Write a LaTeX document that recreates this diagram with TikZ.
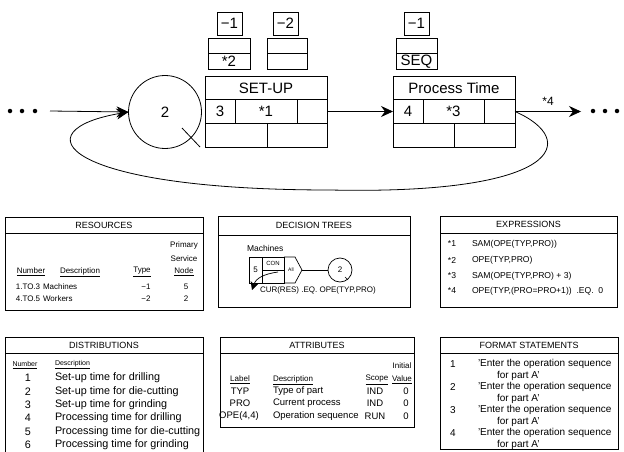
\documentclass[tikz,border=0pt]{standalone}
\usepackage{fontspec}
\setmainfont{Liberation Sans}
\usetikzlibrary{arrows.meta,calc}
\begin{document}
\begin{tikzpicture}[x=1pt,y=-1pt,line width=0.8pt,
  every node/.style={inner sep=0pt,outer sep=0pt},
  arr/.style={-{Stealth[length=12pt,width=11pt,inset=4pt]}},
  dot/.style={circle,fill,minimum size=4.5pt},
  fb/.style={font=\fontsize{15}{15}\selectfont},
  block/.style={draw,minimum width=122pt,minimum height=71pt,anchor=north west},
  sbox/.style={draw,minimum width=25pt,minimum height=23pt,fb},
  thin/.style={line width=0.7pt},
  fr/.style={font=\fontsize{8}{8}\selectfont},
  fe/.style={font=\fontsize{8.6}{8.6}\selectfont},
  fd/.style={font=\fontsize{10.8}{10.8}\selectfont},
  fh/.style={font=\fontsize{7}{7}\selectfont},
  fa/.style={font=\fontsize{9.5}{9.5}\selectfont},
  ff/.style={font=\fontsize{10}{10}\selectfont},
  ftitle/.style={font=\fontsize{9}{9}\selectfont}]
\useasboundingbox (0,0) rectangle (624,452);
% ---------------- top network ----------------
\node[dot] (dl1) at (10,111) {};
\node[dot] (dl2) at (22,111) {};
\node[dot] (dl3) at (35,111) {};
\coordinate (inL) at (50,111);
\node[draw,circle,minimum size=73pt,fb] (c2) at (165,112) {2};
\draw (182,128) -- (200,147);
\draw[arr] (inL) -- (c2.west);
% SET-UP block
\node[block] (su) at (205,76) {};
\draw (205,99) -- (327,99) (205,123) -- (327,123)
      (235,99) -- (235,123) (297,99) -- (297,123) (267,123) -- (267,147);
\node[fb] (sut) at (266,88) {SET-UP};
\node[fb] (su3) at (220,111) {3};
\node[fb] (su1) at (266,111) {*1};
\node[sbox] (sm1) at (229.5,23.5) {−1};
\node[sbox] (sm2) at (285.5,23.5) {−2};
\draw (208,38) rectangle (250,69) (208,53) -- (250,53);
\node[fb] (sa2) at (229,61.5) {*2};
\draw (267,38) rectangle (307,69) (267,53) -- (307,53);
% Process Time block
\node[block] (pt) at (393,76) {};
\draw (393,99) -- (515,99) (393,123) -- (515,123)
      (423,99) -- (423,123) (484,99) -- (484,123) (454,123) -- (454,147);
\node[fb] (ptt) at (454,88) {Process Time};
\node[fb] (pt4) at (408,111) {4};
\node[fb] (pt3) at (453.5,111) {*3};
\node[sbox] (pm1) at (416.5,23.5) {−1};
\draw (396,38) rectangle (437,69) (396,53) -- (437,53);
\node[fb] (pseq) at (416.5,61.5) {SEQ};
\draw[arr] (su.east) -- (pt.west);
\coordinate (outR) at (581,111.5);
\draw[arr] (pt.east) -- (outR);
\node[font=\fontsize{12}{12}\selectfont] (l4) at (548,101) {*4};
\node[dot] (dr1) at (593,111) {};
\node[dot] (dr2) at (605,111) {};
\node[dot] (dr3) at (617,111) {};
\draw[arr] (pt.east) .. controls (580,140) and (562,195) .. (330,190)
   .. controls (60,190) and (20,130) .. (c2.west);
% ---------------- RESOURCES ----------------
\draw[thin] (5,217) rectangle (203,310) (5,233) -- (203,233);
\node[ftitle] (rt) at (104,225) {RESOURCES};
\node[fr] (rh1) at (31,272) {\underline{Number}};
\node[fr,anchor=west] (rh2) at (60,272) {\underline{Description}};
\node[fr] (rh3) at (142,272) {\underline{Type}};
\node[fr] (rh4a) at (184,245) {Primary};
\node[fr] (rh4b) at (184,258.5) {Service};
\node[fr] (rh4c) at (184,272) {\underline{Node}};
\node[fr] (r11) at (28,287) {1.TO.3};
\node[fr,anchor=west] (r12) at (43,287) {Machines};
\node[fr] (r13) at (146,287) {−1};
\node[fr] (r14) at (186,287) {5};
\node[fr] (r21) at (28,299) {4.TO.5};
\node[fr,anchor=west] (r22) at (43,299) {Workers};
\node[fr] (r23) at (146,299) {−2};
\node[fr] (r24) at (186,299) {2};
% ---------------- DECISION TREES ----------------
\draw[thin] (218,216) rectangle (410,307) (218,235) -- (410,235);
\node[ftitle] (dt) at (314,225.5) {DECISION TREES};
\node[font=\fontsize{8.5}{8.5}\selectfont,anchor=west] (dm) at (247,248) {Machines};
\draw[thin] (249,257) rectangle (262,283);
\draw[thin] (262,257) rectangle (284,283) (262,270) -- (284,270);
\draw[thin] (284,257) -- (295,257) -- (302,270) -- (295,283) -- (284,283);
\coordinate (ptip) at (302,270);
\node[fr] (d5) at (255.5,270) {5};
\node[font=\fontsize{6}{6}\selectfont] (dcon) at (273,263.5) {CON};
\node[font=\fontsize{5}{5}\selectfont] (dall) at (291,270) {All};
\node[draw,thin,circle,minimum size=24pt,fr] (dc2) at (340,270) {2};
\draw[thin] (ptip) -- (dc2.west);
\draw[thin] (345,277) -- (348,280);
\draw[thin,-{Stealth[length=8pt,width=8pt,inset=2pt]}] (278,272) .. controls (264,274) and (256,278) .. (252,290);
\node[fr,anchor=west] (dcur) at (260,290) {CUR(RES) .EQ. OPE(TYP,PRO)};
% ---------------- EXPRESSIONS ----------------
\draw[thin] (440,216) rectangle (617,307) (440,233) -- (617,233);
\node[ftitle] (et) at (528.5,224.5) {EXPRESSIONS};
\node[fe] (e1a) at (452,244) {*1};
\node[fe,anchor=west] (e1b) at (472,244) {SAM(OPE(TYP,PRO))};
\node[fe] (e2a) at (452,260) {*2};
\node[fe,anchor=west] (e2b) at (472,260) {OPE(TYP,PRO)};
\node[fe] (e3a) at (452,276) {*3};
\node[fe,anchor=west] (e3b) at (472,276) {SAM(OPE(TYP,PRO) + 3)};
\node[fe] (e4a) at (452,291) {*4};
\node[fe,anchor=west] (e4b) at (472,291) {OPE(TYP,(PRO=PRO+1)) \ .EQ. \ 0};
% ---------------- DISTRIBUTIONS ----------------
\draw[thin] (5,452) -- (5,337) -- (203,337) -- (203,452) (5,353) -- (203,353);
\node[ftitle] (dist) at (104,345) {DISTRIBUTIONS};
\node[fh] (dh1) at (25,365) {\underline{Number}};
\node[fh,anchor=west] (dh2) at (55,365) {\underline{Description}};
\node[fd] (d1a) at (28,378) {1};
\node[fd,anchor=west] (d1b) at (55,378) {Set-up time for drilling};
\node[fd] (d2a) at (28,391.5) {2};
\node[fd,anchor=west] (d2b) at (55,391.5) {Set-up time for die-cutting};
\node[fd] (d3a) at (28,405) {3};
\node[fd,anchor=west] (d3b) at (55,405) {Set-up time for grinding};
\node[fd] (d4a) at (28,418) {4};
\node[fd,anchor=west] (d4b) at (55,418) {Processing time for drilling};
\node[fd] (d5a) at (28,431.5) {5};
\node[fd,anchor=west] (d5b) at (55,431.5) {Processing time for die-cutting};
\node[fd] (d6a) at (28,445) {6};
\node[fd,anchor=west] (d6b) at (55,445) {Processing time for grinding};
% ---------------- ATTRIBUTES ----------------
\draw[thin] (220,337) rectangle (414,427) (220,353) -- (414,353);
\node[ftitle] (at) at (317,345) {ATTRIBUTES};
\node[fr] (ah1) at (240,380) {\underline{Label}};
\node[fr,anchor=west] (ah2) at (273,380) {\underline{Description}};
\node[fr] (ah3) at (377,380) {\underline{Scope}};
\node[fr] (ah4a) at (402,366) {Initial};
\node[fr] (ah4b) at (402,380) {\underline{Value}};
\node[fa] (a1a) at (240,391) {TYP};
\node[fa,anchor=west] (a1b) at (273,391) {Type of part};
\node[fa] (a1c) at (375,391) {IND};
\node[fa] (a1d) at (406,391) {0};
\node[fa] (a2a) at (240,403.5) {PRO};
\node[fa,anchor=west] (a2b) at (273,403.5) {Current process};
\node[fa] (a2c) at (375,403.5) {IND};
\node[fa] (a2d) at (406,403.5) {0};
\node[fa] (a3a) at (239,416) {OPE(4,4)};
\node[fa,anchor=west] (a3b) at (273,416) {Operation sequence};
\node[fa] (a3c) at (375,416) {RUN};
\node[fa] (a3d) at (406,416) {0};
% ---------------- FORMAT STATEMENTS ----------------
\draw[thin] (440,337) rectangle (618,449) (440,353) -- (618,353);
\node[ftitle] (fst) at (529,345) {FORMAT STATEMENTS};
\foreach \i/\yy in {1/364,2/387,3/410,4/433}{
  \node[ff] (f\i a) at (453,\yy) {\i};
  \node[ff,anchor=west] (f\i b) at (478,\yy) {’Enter the operation sequence};
  \node[ff,anchor=west] (f\i c) at (497,\yy+12) {for part A’};
}
\end{tikzpicture}
\end{document}
